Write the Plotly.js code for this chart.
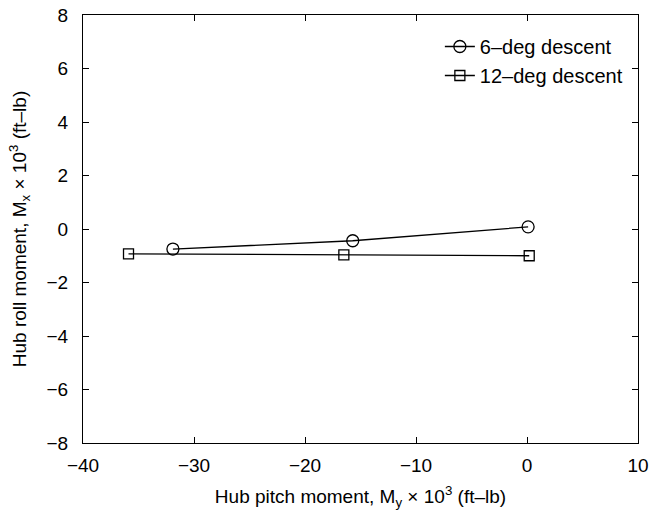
<!DOCTYPE html>
<html><head><meta charset="utf-8">
<script src="https://cdn.plot.ly/plotly-3.0.1.min.js"></script>
<style>body{margin:0;background:#fff}</style>
</head><body>
<div id="chart" style="width:651px;height:522px"></div>
<script>
const series6Name = "6\u2013deg descent";
const series6X = [-31.9, -15.7, 0.1];
const series6Y = [-0.75, -0.44, 0.08];
const series12Name = "12\u2013deg descent";
const series12X = [-35.9, -16.5, 0.2];
const series12Y = [-0.93, -0.97, -1.0];
const xTicks = [-40, -30, -20, -10, 0, 10];
const yTicks = [-8, -6, -4, -2, 0, 2, 4, 6, 8];

const fnt = {family: "Liberation Sans, Arial, sans-serif", size: 19, color: "#000"};
const traces = [
  {x: series6X, y: series6Y, name: series6Name, mode: "lines+markers", type: "scatter",
   line: {color: "#000", width: 1.3},
   marker: {symbol: "circle-open", size: 12, color: "#000", line: {width: 1.3, color: "#000"}}},
  {x: series12X, y: series12Y, name: series12Name, mode: "lines+markers", type: "scatter",
   line: {color: "#000", width: 1.3},
   marker: {symbol: "square-open", size: 10, color: "#000", line: {width: 1.3, color: "#000"}}}
];
const axisCommon = {showline: true, linecolor: "#000", linewidth: 1.3, mirror: "ticks",
  ticks: "inside", ticklen: 6, tickcolor: "#000", tickwidth: 1, showgrid: false, zeroline: false,
  tickfont: fnt};
const layout = {
  width: 651, height: 522,
  margin: {l: 83, r: 13, t: 15, b: 79},
  paper_bgcolor: "#fff", plot_bgcolor: "#fff",
  font: fnt,
  showlegend: true,
  legend: {x: 0.643, y: 0.972, xanchor: "left", yanchor: "top",
    borderwidth: 0, bgcolor: "rgba(255,255,255,0)", font: {family: fnt.family, size: 20, color: "#000"},
    tracegroupgap: 0},
  xaxis: Object.assign({}, axisCommon, {range: [-40, 10], tickvals: xTicks,
    ticktext: xTicks.map(v => v < 0 ? "\u2212" + Math.abs(v) : String(v)),
    ticklabelstandoff: 5,
    title: {text: "Hub pitch moment, M<sub>y</sub> \u00d7 10<sup>3</sup> (ft\u2013lb)", font: fnt, standoff: 14}}),
  yaxis: Object.assign({}, axisCommon, {range: [-8, 8], tickvals: yTicks,
    ticktext: yTicks.map(v => v < 0 ? "\u2212" + Math.abs(v) : String(v)),
    ticklabelstandoff: 10,
    title: {text: "Hub roll moment, M<sub>x</sub> \u00d7 10<sup>3</sup> (ft\u2013lb)", font: fnt, standoff: 14}})
};
Plotly.newPlot("chart", traces, layout, {displayModeBar: false});
</script>
</body></html>
